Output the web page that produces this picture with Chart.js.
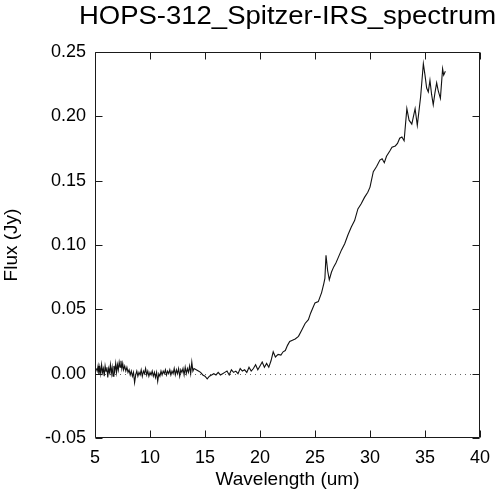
<!DOCTYPE html>
<html>
<head>
<meta charset="utf-8">
<script src="https://cdn.jsdelivr.net/npm/chart.js@4.4.1/dist/chart.umd.min.js"></script>
<style>
html,body{margin:0;padding:0;background:#fff;}
canvas{display:block;}
</style>
</head>
<body>
<canvas id="c" width="500" height="494"></canvas>
<script>
const chartTitle = "HOPS-312_Spitzer-IRS_spectrum";
const xLabel = "Wavelength (um)";
const yLabel = "Flux (Jy)";
const xTicks = [5, 10, 15, 20, 25, 30, 35, 40];
const yTicks = [-0.05, 0.00, 0.05, 0.10, 0.15, 0.20, 0.25];

// Short-low 2 segment
const waveSL2 = [5.12,5.20,5.28,5.36,5.44,5.52,5.60,5.68,5.76,5.84,5.92,6.00,6.08,6.16,6.24,6.32,6.40,6.48,6.56,6.64,6.72,6.80,6.88,6.96,7.04,7.12,7.20,7.28,7.36,7.44,7.52,7.60];
const fluxSL2 = [0.004,0.002,0.006,-0.001,0.005,0.000,0.007,0.001,0.004,-0.002,0.006,0.002,0.005,-0.003,0.004,0.001,0.007,0.000,0.005,-0.002,0.006,0.002,0.008,0.001,0.007,0.003,0.009,0.005,0.010,0.004,0.008,0.003];
// Short-low 1 segment
const waveSL1 = [7.7,7.8,7.9,8.0,8.1,8.2,8.3,8.4,8.5,8.6,8.7,8.8,8.9,9.0,9.1,9.2,9.3,9.4,9.5,9.6,9.7,9.8,9.9,10.0,10.1,10.2,10.3,10.4,10.5,10.6,10.7,10.8,10.9,11.0,11.1,11.2,11.3,11.4,11.5,11.6,11.7,11.8,11.9,12.0,12.1,12.2,12.3,12.4,12.5,12.6,12.7,12.8,12.9,13.0,13.1,13.2,13.3,13.4,13.5,13.6,13.7,13.8,13.9,14.0];
const fluxSL1 = [0.006,0.002,0.005,0.001,0.003,-0.001,0.002,-0.002,0.001,-0.007,-0.001,0.002,-0.002,0.001,-0.001,0.003,-0.002,0.002,0.000,0.004,-0.001,0.002,-0.002,0.001,-0.001,0.002,-0.002,0.001,-0.003,0.001,-0.006,0.000,-0.002,0.002,-0.001,0.002,0.000,0.003,-0.001,0.002,0.000,0.003,-0.001,0.002,0.000,0.004,-0.001,0.003,0.000,0.004,-0.002,0.003,0.001,0.004,-0.001,0.005,0.000,0.004,0.001,0.006,0.000,0.009,0.002,0.004];
// Long-low 2 segment
const waveLL2 = [14.2,14.4,14.6,14.8,15.0,15.2,15.4,15.6,15.8,16.0,16.2,16.4,16.6,16.8,17.0,17.2,17.4,17.6,17.8,18.0,18.2,18.4,18.6,18.8,19.0,19.2,19.4,19.6,19.8,20.0,20.2,20.4,20.6,20.8,21.0];
const fluxLL2 = [0.003,0.002,0.001,-0.001,-0.002,-0.004,-0.002,-0.001,0.000,-0.001,0.001,-0.001,0.000,0.001,0.002,-0.001,0.003,0.001,0.002,0.000,0.004,0.002,0.003,0.001,0.005,0.002,0.004,0.007,0.003,0.006,0.009,0.005,0.008,0.005,0.010];
// Long-low 1 segment
const waveLL1 = [21.2,21.4,21.65,21.9,22.1,22.3,22.5,22.7,22.95,23.2,23.5,23.8,24.1,24.4,24.6,24.8,25.0,25.3,25.6,25.8,25.9,26.0,26.15,26.3,26.5,26.7,26.9,27.1,27.4,27.7,28.0,28.3,28.6,28.9,29.2,29.5,29.8,30.0,30.3,30.6,30.9,31.1,31.3,31.5,31.8,32.0,32.3,32.5,32.7,32.9,33.1,33.35,33.55,33.8,34.1,34.3,34.6,34.85,35.0,35.15,35.3,35.45,35.6,35.75,35.9,36.06,36.2,36.4,36.6,36.7,36.85];
const fluxLL1 = [0.017,0.013,0.015,0.0145,0.017,0.018,0.022,0.025,0.026,0.027,0.029,0.034,0.039,0.042,0.047,0.051,0.055,0.056,0.063,0.070,0.074,0.092,0.080,0.073,0.079,0.083,0.086,0.090,0.096,0.101,0.108,0.114,0.119,0.128,0.132,0.137,0.141,0.145,0.157,0.161,0.166,0.167,0.164,0.169,0.173,0.176,0.177,0.179,0.183,0.184,0.181,0.206,0.197,0.194,0.206,0.193,0.215,0.241,0.232,0.222,0.219,0.228,0.217,0.209,0.218,0.226,0.220,0.214,0.237,0.232,0.235];

const wavelengths = waveSL2.concat(waveSL1, waveLL2, waveLL1);
const fluxes = fluxSL2.concat(fluxSL1, fluxLL2, fluxLL1);
const points = wavelengths.map((w, i) => ({x: w, y: fluxes[i]}));

const FONT = '"Liberation Sans", Arial, Helvetica, sans-serif';
const INK = '#1a1a1a';

const framePlugin = {
  id: 'framePlugin',
  beforeDatasetsDraw(chart) {
    const {ctx, chartArea: a, scales: {y}} = chart;
    const y0 = Math.round(y.getPixelForValue(0)) + 0.5;
    ctx.save();
    ctx.strokeStyle = '#666';
    ctx.lineWidth = 1;
    ctx.setLineDash([1, 4]);
    ctx.beginPath();
    ctx.moveTo(a.left, y0);
    ctx.lineTo(a.right, y0);
    ctx.stroke();
    ctx.restore();
  },
  afterDraw(chart) {
    const {ctx, chartArea: a, scales: {x, y}} = chart;
    const L = Math.round(a.left) + 0.5, R = Math.round(a.right) - 0.5;
    const T = Math.round(a.top) + 0.5, B = Math.round(a.bottom) - 0.5;
    const tl = 7;
    ctx.save();
    ctx.strokeStyle = INK;
    ctx.lineWidth = 1;
    ctx.beginPath();
    ctx.rect(L, T, R - L, B - T);
    xTicks.forEach(v => {
      const px = Math.round(x.getPixelForValue(v)) + 0.5;
      ctx.moveTo(px, B); ctx.lineTo(px, B - tl);
      ctx.moveTo(px, T); ctx.lineTo(px, T + tl);
    });
    yTicks.forEach(v => {
      const py = Math.round(y.getPixelForValue(v)) + 0.5;
      ctx.moveTo(L, py); ctx.lineTo(L + tl, py);
      ctx.moveTo(R, py); ctx.lineTo(R - tl, py);
    });
    ctx.stroke();
    ctx.fillStyle = '#000';
    ctx.font = '25px ' + FONT;
    ctx.textAlign = 'center';
    ctx.textBaseline = 'alphabetic';
    ctx.translate((a.left + a.right) / 2, 23.5);
    ctx.scale(1.1, 1);
    ctx.fillText(chartTitle, 0, 0);
    ctx.restore();
  }
};

new Chart(document.getElementById('c'), {
  type: 'line',
  data: {
    datasets: [{
      data: points,
      borderColor: '#111',
      borderWidth: 1.1,
      pointRadius: 0,
      tension: 0,
      fill: false
    }]
  },
  options: {
    responsive: false,
    animation: false,
    devicePixelRatio: 1,
    layout: {padding: {top: 52, right: 20, left: 0, bottom: 0}},
    plugins: {legend: {display: false}, title: {display: false}, tooltip: {enabled: false}},
    scales: {
      x: {
        type: 'linear',
        min: 5, max: 40,
        afterBuildTicks: s => { s.ticks = xTicks.map(v => ({value: v})); },
        ticks: {color: '#000', font: {family: FONT, size: 18}, padding: 9, maxRotation: 0, callback: v => String(v)},
        grid: {display: false, drawTicks: false},
        border: {display: false},
        title: {display: true, text: xLabel, color: '#000', font: {family: FONT, size: 19}, padding: {top: 0, bottom: 3}},
        afterFit: s => { s.height = 56; }
      },
      y: {
        type: 'linear',
        min: -0.05, max: 0.25,
        afterBuildTicks: s => { s.ticks = yTicks.map(v => ({value: v})); },
        ticks: {color: '#000', font: {family: FONT, size: 18}, padding: 9, callback: v => Number(v).toFixed(2)},
        grid: {display: false, drawTicks: false},
        border: {display: false},
        title: {display: true, text: yLabel, color: '#000', font: {family: FONT, size: 19}, padding: {top: 0, bottom: 0}},
        afterFit: s => { s.width = 95; }
      }
    }
  },
  plugins: [framePlugin]
});
</script>
</body>
</html>
